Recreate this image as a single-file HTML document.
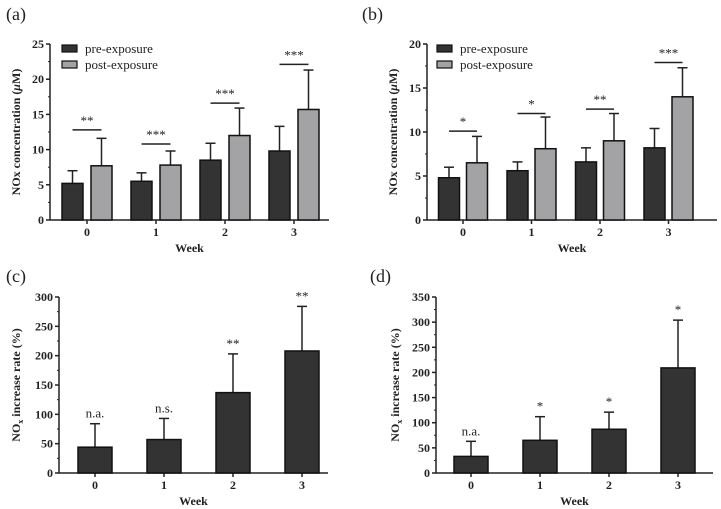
<!DOCTYPE html>
<html><head><meta charset="utf-8"><style>
html,body{margin:0;padding:0;background:#fff}
svg{display:block}
text{font-family:"Liberation Serif",serif;fill:#222}
</style></head><body>
<svg id="fig" width="721" height="509" viewBox="0 0 721 509"></svg>
<script>
const weeks=["0","1","2","3"];
const aPre=[5.2,5.5,8.5,9.8];
const aPreErr=[7.0,6.7,10.9,13.3];
const aPost=[7.7,7.8,12.0,15.7];
const aPostErr=[11.6,9.8,15.9,21.3];
const aSigY=[12.8,10.8,16.6,22.1];
const aSig=["**","***","***","***"];
const aTicks=[0,5,10,15,20,25];
const bPre=[4.8,5.6,6.6,8.2];
const bPreErr=[6.0,6.6,8.2,10.4];
const bPost=[6.5,8.1,9.0,14.0];
const bPostErr=[9.5,11.7,12.1,17.3];
const bSigY=[10.1,12.1,12.6,17.9];
const bSig=["*","*","**","***"];
const bTicks=[0,5,10,15,20];
const cVal=[44,57,137,208];
const cErr=[84,93,203,284];
const cSig=["n.a.","n.s.","**","**"];
const cTicks=[0,50,100,150,200,250,300];
const dVal=[33,65,87,209];
const dErr=[63,112,121,304];
const dSig=["n.a.","*","*","*"];
const dTicks=[0,50,100,150,200,250,300,350];

const svg=document.getElementById('fig');
const NS="http://www.w3.org/2000/svg";
function el(tag,attrs,txt){const e=document.createElementNS(NS,tag);for(const k in attrs)e.setAttribute(k,attrs[k]);if(txt!==undefined)e.textContent=txt;svg.appendChild(e);return e;}

function axes(p,ticks,title,label,lx,ly){
  const y=v=>p.y0-(v-ticks[0])/(ticks[ticks.length-1]-ticks[0])*(p.y0-p.y1);
  const t=el('text',{x:lx,y:ly,'font-size':18});t.textContent=label;
  
  
  const ax=el('line',{x1:p.x0,y1:p.y0,x2:p.x0,y2:p.y1,stroke:'#222','stroke-width':1.5});
  
  const xa=el('line',{x1:p.x0,y1:p.y0,x2:p.x2,y2:p.y0,stroke:'#222','stroke-width':1.5});
  
  ticks.forEach((v,i)=>{
    el('line',{x1:p.x0-4,y1:y(v),x2:p.x0,y2:y(v),stroke:'#222','stroke-width':1.5});
    if(i<ticks.length-1){const m=(y(v)+y(ticks[i+1]))/2;el('line',{x1:p.x0-2,y1:m,x2:p.x0,y2:m,stroke:'#222','stroke-width':1});}
    const tl=el('text',{x:p.x0-6,y:y(v)+4,'font-size':12,'font-weight':'bold','text-anchor':'end'},String(v));
    
  });
  weeks.forEach((w,i)=>{
    const cx=p.c0+i*p.dx;
    el('line',{x1:cx,y1:p.y0,x2:cx,y2:p.y0+4,stroke:'#222','stroke-width':1.5});
    const tl=el('text',{x:cx,y:p.y0+16,'font-size':12,'font-weight':'bold','text-anchor':'middle'},w);
    
  });
  const wx=el('text',{x:(p.x0+p.x2)/2+(p.wxo||0),y:p.y0+32,'font-size':12,'font-weight':'bold','text-anchor':'middle'},'Week');
  
  const yt=el('text',{x:0,y:0,'font-size':12,'font-weight':'bold','text-anchor':'middle',transform:`translate(${p.tx},${(p.y0+p.y1)/2}) rotate(-90)`});
  yt.innerHTML=title;
  
  return y;
}
function bar(x,w,yTop,y0,yErr,fill,name){
  const eb=el('line',{x1:x+w/2,y1:yTop,x2:x+w/2,y2:yErr,stroke:'#222','stroke-width':1.5});
  
  el('line',{x1:x+w/2-5,y1:yErr,x2:x+w/2+5,y2:yErr,stroke:'#222','stroke-width':1.5});
  const r=el('rect',{x:x,y:yTop,width:w,height:y0-yTop,fill:fill,stroke:'#111','stroke-width':1.5});
  
}
function paired(p,ticks,pre,preE,post,postE,sigY,sig,label,lx,ly){
  const y=axes(p,ticks,'NOx concentration (<tspan font-style="italic">μ</tspan>M)',label,lx,ly);
  weeks.forEach((w,i)=>{
    const cx=p.c0+i*p.dx;
    bar(cx-p.off-p.bw/2,p.bw,y(pre[i]),p.y0,y(preE[i]),'#333','bar-pre-week'+w);
    bar(cx+p.off-p.bw/2,p.bw,y(post[i]),p.y0,y(postE[i]),'#a3a3a5','bar-post-week'+w);
    const sl=el('line',{x1:cx-p.off,y1:y(sigY[i]),x2:cx+p.off,y2:y(sigY[i]),stroke:'#222','stroke-width':1.5});
    
    const st=el('text',{x:cx,y:y(sigY[i])-5,'font-size':13,'text-anchor':'middle',fill:'#444'},sig[i]);
    
  });
  [['#333','pre-exposure',0],['#a3a3a5','post-exposure',16]].forEach(([f,t,o])=>{
    const r=el('rect',{x:p.lgx,y:45+o,width:15,height:7,fill:f,stroke:'#111','stroke-width':1.2});
    
    const lt=el('text',{x:p.lgx+23,y:53+o,'font-size':13},t);
    
  });
}
function single(p,ticks,val,err,sig,label,lx,ly){
  const y=axes(p,ticks,'NO<tspan font-size="8" dy="3">x</tspan><tspan dy="-3"> increase rate (%)</tspan>',label,lx,ly);
  weeks.forEach((w,i)=>{
    const cx=p.c0+i*p.dx;
    bar(cx-p.bw/2,p.bw,y(val[i]),p.y0,y(err[i]),'#333','bar-week'+w);
    const st=el('text',{x:cx,y:y(err[i])-6,'font-size':13,'text-anchor':'middle',fill:'#444'},sig[i]);
    
  });
}
paired({x0:50,x2:329,y0:220,y1:44,c0:87,dx:69,off:14.5,bw:21,tx:20,lgx:62},aTicks,aPre,aPreErr,aPost,aPostErr,aSigY,aSig,'(a)',6,20);
paired({x0:427,x2:717,y0:220,y1:44,c0:463,dx:68.5,off:14,bw:21,tx:397,lgx:437},bTicks,bPre,bPreErr,bPost,bPostErr,bSigY,bSig,'(b)',362,20);
single({x0:59,x2:328,y0:473,y1:297,c0:95,dx:69,bw:34,tx:20},cTicks,cVal,cErr,cSig,'(c)',6,282);
single({x0:436,x2:713,y0:473,y1:297,c0:471,dx:69,bw:34,tx:399},dTicks,dVal,dErr,dSig,'(d)',370,282);
</script>
</body></html>
